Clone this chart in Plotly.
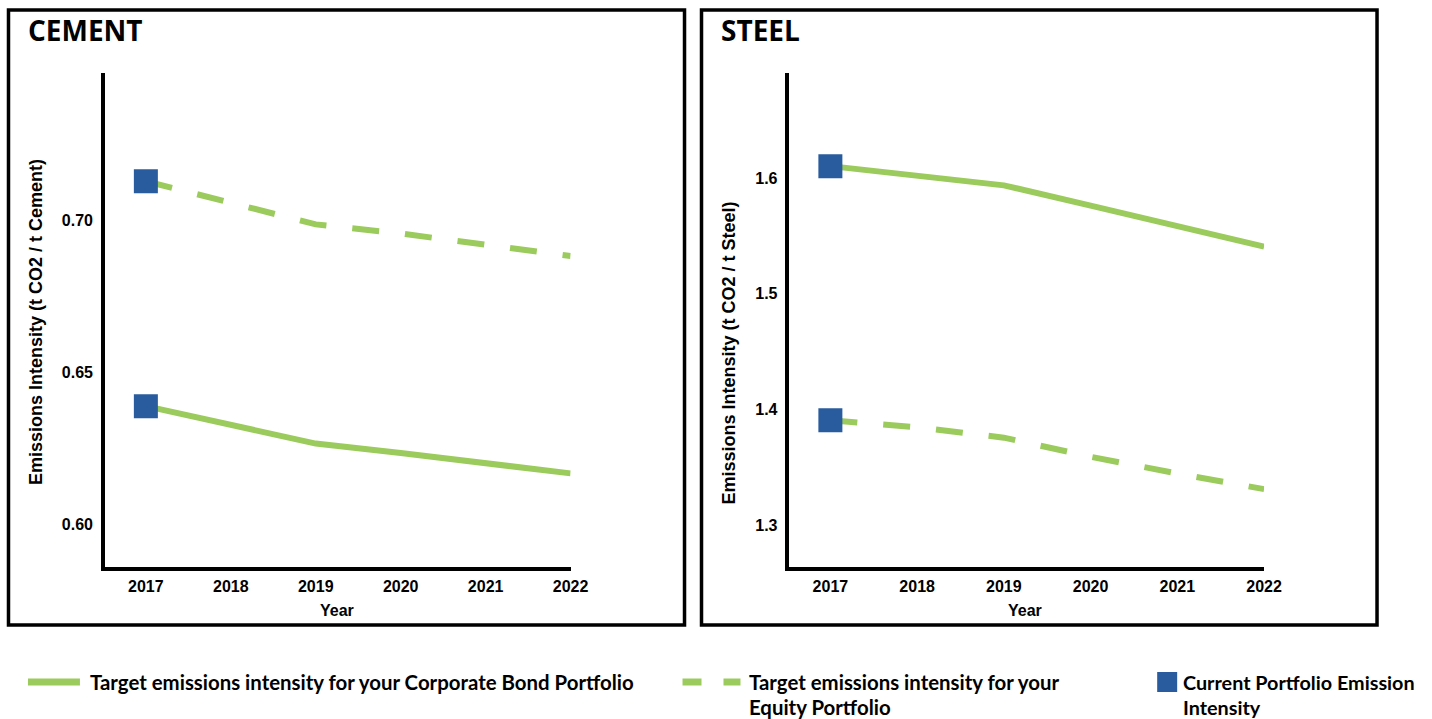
import plotly.graph_objects as go

# ---------------- data ----------------
years = [2017, 2018, 2019, 2020, 2021, 2022]
year_labels = ["2017", "2018", "2019", "2020", "2021", "2022"]

cement_bond = [0.6388, 0.6328, 0.6265, 0.6234, 0.6200, 0.6167]
cement_equity = [0.7128, 0.7056, 0.6986, 0.6956, 0.6919, 0.6882]
cement_current_years = [2017, 2017]
cement_current = [0.7128, 0.6388]
cement_ticks = [0.60, 0.65, 0.70]
cement_tick_labels = ["0.60", "0.65", "0.70"]

steel_bond = [1.6102, 1.6018, 1.5936, 1.5760, 1.5583, 1.5406]
steel_equity = [1.3905, 1.3845, 1.3755, 1.3590, 1.3445, 1.3310]
steel_current_years = [2017, 2017]
steel_current = [1.6102, 1.3905]
steel_ticks = [1.3, 1.4, 1.5, 1.6]
steel_tick_labels = ["1.3", "1.4", "1.5", "1.6"]

panel_titles = ["CEMENT", "STEEL"]
y_titles = ["Emissions Intensity (t CO2 / t Cement)", "Emissions Intensity (t CO2 / t Steel)"]
x_title = "Year"
legend_labels = [
    "Target emissions intensity for your Corporate Bond Portfolio",
    ["Target emissions intensity for your", "Equity Portfolio"],
    ["Current Portfolio Emission", "Intensity"],
]

# ---------------- style ----------------
W, H = 1432, 719
SX = 1415  # effective horizontal drawing width observed in the viewer
GREEN = "#9BCB5C"
BLUE = "#295C9E"
TICK_FONT = dict(family="Liberation Sans, Arial", size=16, color="#000000", weight="bold")
DASH = "27px,26px"


def px(x):
    return x / SX


def py(y):
    return 1 - y / H


fig = go.Figure()

panels = [
    dict(xa="x", ya="y", bond=cement_bond, eq=cement_equity,
         cy=cement_current_years, cv=cement_current),
    dict(xa="x2", ya="y2", bond=steel_bond, eq=steel_equity,
         cy=steel_current_years, cv=steel_current),
]

for p in panels:
    fig.add_trace(go.Scatter(x=years, y=p["eq"], mode="lines", xaxis=p["xa"], yaxis=p["ya"],
                             line=dict(color=GREEN, width=6, dash=DASH), showlegend=False,
                             hoverinfo="x+y"))
    fig.add_trace(go.Scatter(x=years, y=p["bond"], mode="lines", xaxis=p["xa"], yaxis=p["ya"],
                             line=dict(color=GREEN, width=6), showlegend=False,
                             hoverinfo="x+y"))
    fig.add_trace(go.Scatter(x=p["cy"], y=p["cv"], mode="markers", xaxis=p["xa"], yaxis=p["ya"],
                             marker=dict(symbol="square", size=24, color=BLUE, line=dict(width=0)),
                             showlegend=False, hoverinfo="x+y"))

axis_common = dict(showline=True, linecolor="#000000", linewidth=3.5, showgrid=False,
                   zeroline=False, ticks="", tickfont=TICK_FONT, fixedrange=True)

fig.update_layout(
    width=W, height=H, autosize=False,
    margin=dict(l=0, r=0, t=0, b=0),
    paper_bgcolor="#FFFFFF", plot_bgcolor="#FFFFFF",
    showlegend=False,
    xaxis=dict(domain=[px(105), px(571)], range=[2016.518, 2022], tickvals=years,
               ticktext=year_labels, anchor="y", ticklabelstandoff=2, **axis_common),
    yaxis=dict(domain=[py(567), py(73)], range=[0.5859, 0.7484], tickvals=cement_ticks,
               ticktext=cement_tick_labels, anchor="x", ticklabelstandoff=5, **axis_common),
    xaxis2=dict(domain=[px(790), px(1265)], range=[2016.528, 2022], tickvals=years,
                ticktext=year_labels, anchor="y2", ticklabelstandoff=2, **axis_common),
    yaxis2=dict(domain=[py(567), py(73)], range=[1.2637, 1.6907], tickvals=steel_ticks,
                ticktext=steel_tick_labels, anchor="x2", ticklabelstandoff=5, **axis_common),
)

shapes = []
# panel boxes
for (x0, x1) in [(8.5, 685), (702, 1378)]:
    shapes.append(dict(type="rect", xref="paper", yref="paper", x0=px(x0), x1=px(x1),
                       y0=py(625), y1=py(10), line=dict(color="#000000", width=3.5),
                       fillcolor="rgba(0,0,0,0)", layer="below"))
# legend symbols
shapes.append(dict(type="line", xref="paper", yref="paper", x0=px(28), x1=px(80),
                   y0=py(682), y1=py(682), line=dict(color=GREEN, width=7)))
for (a, b) in [(683, 702), (724, 741)]:
    shapes.append(dict(type="line", xref="paper", yref="paper", x0=px(a), x1=px(b),
                       y0=py(682), y1=py(682), line=dict(color=GREEN, width=7)))
shapes.append(dict(type="rect", xref="paper", yref="paper", x0=px(1158), x1=px(1178),
                   y0=py(692), y1=py(672), line=dict(width=0), fillcolor=BLUE))
fig.update_layout(shapes=shapes)

ann = []
TITLE_FONT = dict(family="Open Sans", size=28, color="#000000", weight="bold")
ann.append(dict(text="<b>%s</b>" % panel_titles[0], xref="paper", yref="paper", x=px(26), y=py(30),
                xanchor="left", yanchor="middle", showarrow=False, font=TITLE_FONT))
ann.append(dict(text="<b>%s</b>" % panel_titles[1], xref="paper", yref="paper", x=px(720), y=py(30),
                xanchor="left", yanchor="middle", showarrow=False, font=TITLE_FONT))
YT_FONT = dict(family="Liberation Sans, Arial", size=18, color="#000000")
XT_FONT = dict(family="Liberation Sans, Arial", size=16, color="#000000")
ann.append(dict(text="<b>%s</b>" % y_titles[0], xref="paper", yref="paper", x=px(36), y=py(322),
                xanchor="center", yanchor="middle", textangle=-90, showarrow=False, font=YT_FONT))
ann.append(dict(text="<b>%s</b>" % y_titles[1], xref="paper", yref="paper", x=px(730), y=py(353),
                xanchor="center", yanchor="middle", textangle=-90, showarrow=False, font=YT_FONT))
ann.append(dict(text="<b>%s</b>" % x_title, xref="paper", yref="paper", x=px(337), y=py(610),
                xanchor="center", yanchor="middle", showarrow=False, font=XT_FONT))
ann.append(dict(text="<b>%s</b>" % x_title, xref="paper", yref="paper", x=px(1026), y=py(610),
                xanchor="center", yanchor="middle", showarrow=False, font=XT_FONT))

LEG_FONT = dict(family="Lato", size=20.4, color="#000000")
LEG_FONT3 = dict(family="Lato", size=19.8, color="#000000")
leg_lines = [
    (88, 682, legend_labels[0], LEG_FONT),
    (748, 682, legend_labels[1][0], LEG_FONT),
    (748, 707, legend_labels[1][1], LEG_FONT),
    (1182, 682, legend_labels[2][0], LEG_FONT3),
    (1182, 707, legend_labels[2][1], LEG_FONT3),
]
for (x, y, t, f) in leg_lines:
    ann.append(dict(text="<b>%s</b>" % t, xref="paper", yref="paper", x=px(x), y=py(y),
                    xanchor="left", yanchor="middle", showarrow=False, font=f))
fig.update_layout(annotations=ann)

fig.write_html("out.html",
               config={"responsive": False, "displayModeBar": False},
               default_width="1432px", default_height="719px",
               post_script="document.body.style.margin='0px';document.body.style.overflow='hidden';")
